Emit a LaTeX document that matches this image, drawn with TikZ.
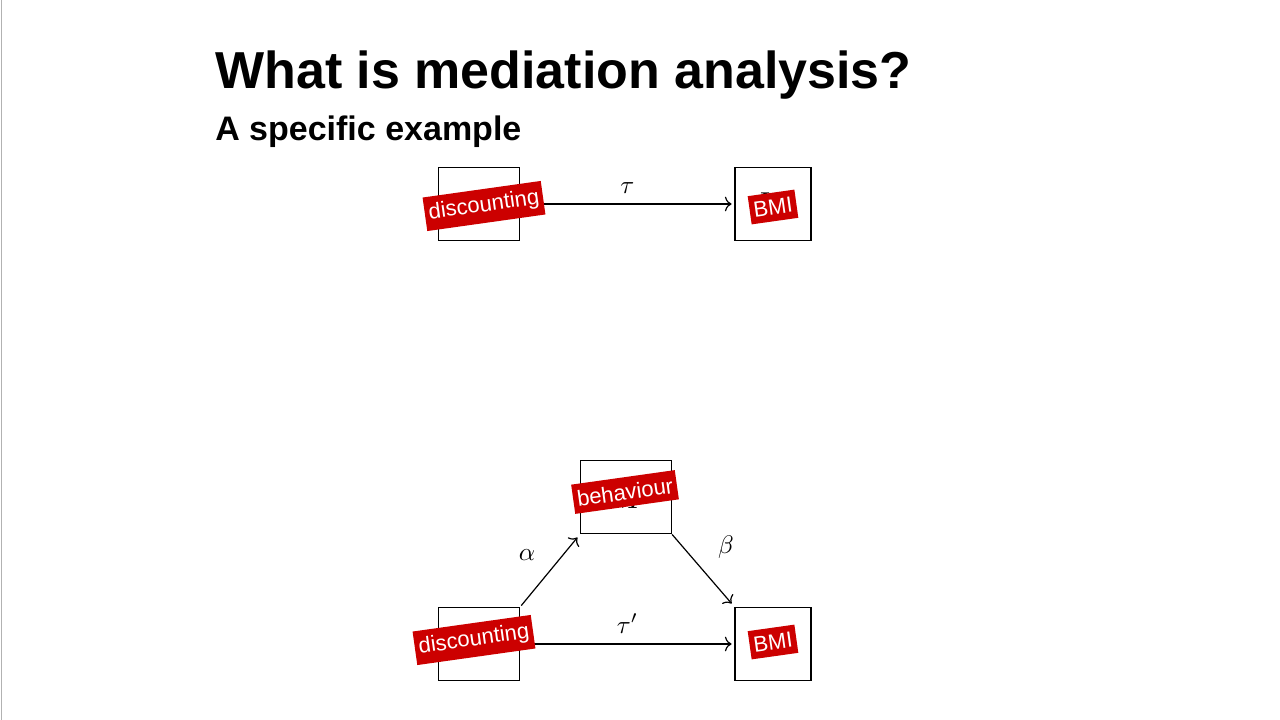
\documentclass[tikz,border=0pt]{standalone}
\usepackage{fontspec}
\setmainfont{Liberation Sans}
\usetikzlibrary{positioning,arrows.meta}
\tikzset{
var/.style={rectangle,draw=black,line width=1.1pt,minimum width=61pt,minimum height=55pt,inner sep=0pt,
font=\fontsize{30}{30}\selectfont},
tag/.style={rectangle,fill=red!80!black,text=white,inner xsep=3pt,inner ysep=5pt,rotate=8,
font=\fontsize{16.5}{16.5}\selectfont},
effect/.style={-{To[length=5pt,width=11pt]},line width=0.9pt,shorten >=2pt},
coef/.style={scale=1.9}
}
\begin{document}
\begin{tikzpicture}[x=0.75pt,y=-0.75pt]
\useasboundingbox (0,0) rectangle (1280,720);
\draw[gray!60] (1,0) -- (1,720);
% title
\node[anchor=base west,inner sep=0pt,font=\fontsize{39}{39}\selectfont\bfseries] (title) at (215,89) {What is mediation analysis?};
\node[anchor=base west,inner sep=0pt,font=\fontsize{25.5}{25.5}\selectfont\bfseries] (sub) at (215,141) {A specific example};

% total effect
\node[var] (X1) at (479,204) {$X$};
\node[var,minimum width=57pt] (Y1) at (773,204) {$Y$};
\draw[effect] (X1) -- node[coef,above=1pt] (tau) {$\tau$} (Y1);
\node[tag] (tX1) at (484,206) {discounting};
\node[tag] (tY1) at (773,207) {BMI};

% mediated effect
\node[var] (X2) at (479,644) {$X$};
\node[var,minimum width=57pt] (Y2) at (773,644) {$Y$};
\node[var,minimum width=68pt] (M) at (626,497) {$M$};
\draw[effect,shorten <=1pt,shorten >=3pt] (X2.north east) -- node[coef,above left=0pt and 4pt] (alpha) {$\alpha$} (M.south west);
\draw[effect,shorten >=3pt] (M.south east) -- node[coef,above right=2pt and 4pt] (beta) {$\beta$} (Y2.north west);
\draw[effect] (X2) -- node[coef,above=1pt] (taup) {$\tau'$} (Y2);
\node[tag] (tX2) at (474,640) {discounting};
\node[tag] (tY2) at (773,642) {BMI};
\node[tag] (tM) at (625,492) {behaviour};
\end{tikzpicture}
\end{document}
